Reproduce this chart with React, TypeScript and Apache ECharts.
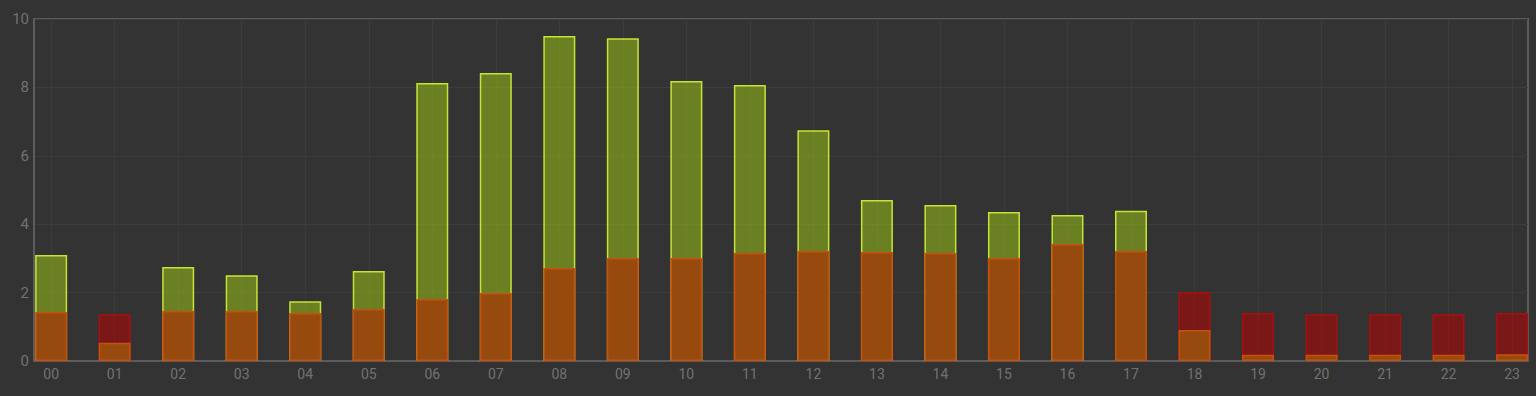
import React, { useEffect, useRef } from "react";
import * as echarts from "echarts";

const categories = ["00","01","02","03","04","05","06","07","08","09","10","11","12","13","14","15","16","17","18","19","20","21","22","23"];
const greenValues = [3.1, null, 2.75, 2.51, 1.75, 2.63, 8.13, 8.42, 9.5, 9.44, 8.19, 8.07, 6.75, 4.71, 4.56, 4.36, 4.27, 4.39, null, null, null, null, null, null];
const redValues = [null, 1.37, null, null, null, null, null, null, null, null, null, null, null, null, null, null, null, null, 2.02, 1.4, 1.37, 1.37, 1.37, 1.4];
const orangeValues = [1.43, 0.53, 1.46, 1.46, 1.4, 1.52, 1.81, 1.99, 2.72, 3.01, 3.01, 3.16, 3.22, 3.19, 3.16, 3.01, 3.42, 3.22, 0.91, 0.18, 0.18, 0.18, 0.18, 0.2];
const yTicks = [0, 2, 4, 6, 8, 10];

const toData = (arr: (number | null)[]) =>
  arr.map((v, i) => (v === null ? [i, "-"] : [i, v]));

export default function App() {
  const ref = useRef<HTMLDivElement>(null);
  useEffect(() => {
    document.body.style.margin = "0";
    document.body.style.background = "#333333";
    if (!ref.current) return;
    const chart = echarts.init(ref.current, null, { renderer: "svg" });
    const idx = categories.map((_, i) => i);
    chart.setOption({
      animation: false,
      backgroundColor: "#333333",
      textStyle: { fontFamily: "Roboto, sans-serif" },
      grid: {
        left: 34,
        right: 8,
        top: 19,
        bottom: 35,
        show: true,
        borderColor: "#5c5c5c",
        borderWidth: 2,
        backgroundColor: "transparent",
      },
      xAxis: {
        type: "value",
        min: -0.27,
        max: 23.25,
        axisLine: { show: true, onZero: false, lineStyle: { color: "#5c5c5c", width: 2 } },
        axisTick: { show: false, customValues: idx },
        axisLabel: {
          customValues: idx,
          color: "#727272",
          fontSize: 14,
          margin: 6,
          formatter: (v: number) => categories[Math.round(v)] ?? "",
        },
        splitLine: { show: true, lineStyle: { color: "#3c3c3c", width: 1 } },
      },
      yAxis: {
        type: "value",
        min: 0,
        max: 10,
        interval: 2,
        axisLine: { show: true, onZero: false, lineStyle: { color: "#5c5c5c", width: 2 } },
        axisTick: { show: false },
        axisLabel: {
          color: "#727272",
          fontSize: 15,
          margin: 5,
          customValues: yTicks,
        },
        splitLine: { show: true, lineStyle: { color: "#3c3c3c", width: 1 } },
      },
      series: [
        {
          type: "bar",
          data: toData(greenValues),
          barWidth: 32,
          barGap: "-100%",
          itemStyle: {
            color: "rgba(160,200,20,0.52)",
            borderColor: "#c6e436",
            borderWidth: 1.5,
          },
        },
        {
          type: "bar",
          data: toData(redValues),
          barWidth: 32,
          barGap: "-100%",
          itemStyle: {
            color: "rgba(180,0,0,0.55)",
            borderColor: "#a81010",
            borderWidth: 1.5,
          },
        },
        {
          type: "bar",
          data: toData(orangeValues),
          barWidth: 32,
          barGap: "-100%",
          itemStyle: {
            color: "#974a0d",
            borderColor: "#c8500e",
            borderWidth: 1.5,
          },
        },
      ],
    });
    return () => chart.dispose();
  }, []);
  return <div ref={ref} style={{ width: 1536, height: 396 }} />;
}
